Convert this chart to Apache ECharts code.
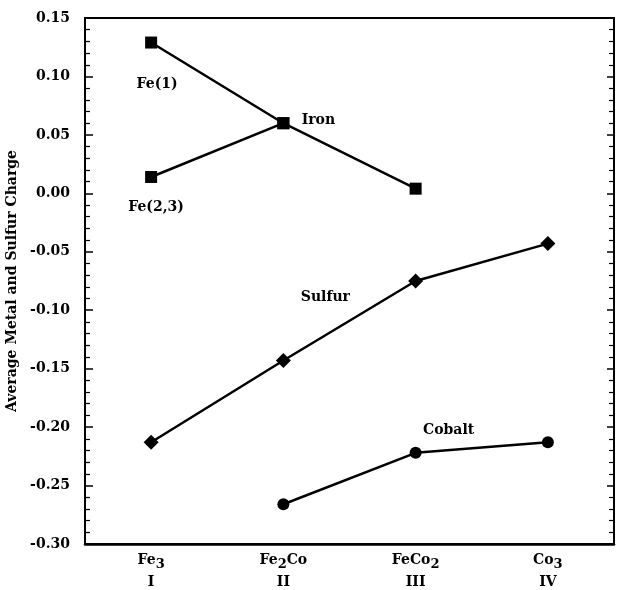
<!DOCTYPE html>
<html>
<head>
<meta charset="utf-8">
<script src="https://cdn.jsdelivr.net/npm/echarts@6/dist/echarts.min.js"></script>
<style>
  html, body { margin: 0; padding: 0; background: #fff; }
  #chart { width: 617px; height: 590px; }
</style>
</head>
<body>
<div id="chart"></div>
<script>
// ---- data ----
const categories = ['Fe3', 'Fe2Co', 'FeCo2', 'Co3'];
const romanLabels = ['I', 'II', 'III', 'IV'];
const fe1 = [0.129, 0.060, 0.004, null];
const fe23 = [0.014, 0.060, null, null];
const sulfur = [-0.213, -0.143, -0.075, -0.043];
const cobalt = [null, -0.266, -0.222, -0.213];
const yMin = -0.30, yMax = 0.15, yStep = 0.05;
const yAxisTitle = 'Average Metal and Sulfur Charge';

// ---- annotation texts (attached to data points) ----
const annotations = [
  { series: 'Fe(1)', index: 0, text: 'Fe(1)', offset: [6, 42] },
  { series: 'Fe(1)', index: 1, text: 'Iron', offset: [35, -3] },
  { series: 'Fe(2,3)', index: 0, text: 'Fe(2,3)', offset: [5, 30] },
  { series: 'Sulfur', index: 1, text: 'Sulfur', offset: [42, -63] },
  { series: 'Cobalt', index: 2, text: 'Cobalt', offset: [33, -22] }
];

const FONT = 'DejaVu Serif';

function buildData(name, values) {
  return values.map((v, i) => {
    const a = annotations.find(an => an.series === name && an.index === i);
    if (!a || v === null) return v;
    return {
      value: v,
      label: {
        show: true,
        position: 'inside',
        formatter: a.text,
        offset: a.offset,
        color: '#000',
        fontFamily: FONT,
        fontWeight: 'bold',
        fontSize: 14
      }
    };
  });
}

function catFormatter(value, idx) {
  const parts = value.match(/[A-Za-z]+|\d+/g);
  let s = '';
  parts.forEach(p => {
    if (/^\d+$/.test(p)) s += '{s|' + p + '}';
    else s += '{a|' + p + '}';
  });
  return s + '\n{b|' + romanLabels[idx] + '}';
}

const lineCommon = {
  type: 'line',
  connectNulls: false,
  lineStyle: { color: '#000', width: 2.5 },
  itemStyle: { color: '#000' },
  symbolSize: 12,
  label: { show: false },
  emphasis: { disabled: true },
  z: 3
};

const chart = echarts.init(document.getElementById('chart'), null, { renderer: 'canvas' });
chart.setOption({
  backgroundColor: '#fff',
  animation: false,
  grid: {
    left: 85, right: 3, top: 18, bottom: 46,
    outerBoundsMode: 'none',
    containLabel: false,
    show: true, borderColor: '#000', borderWidth: 2, backgroundColor: 'transparent'
  },
  xAxis: {
    type: 'category',
    data: categories,
    boundaryGap: true,
    axisLine: { show: true, onZero: false, lineStyle: { color: '#000', width: 2.5 } },
    axisTick: { show: false },
    splitLine: { show: false },
    axisLabel: {
      margin: 7,
      formatter: catFormatter,
      color: '#000',
      rich: {
        a: { fontFamily: FONT, fontWeight: 'bold', fontSize: 14, color: '#000', lineHeight: 18 },
        s: { fontFamily: FONT, fontWeight: 'bold', fontSize: 13, color: '#000', padding: [10, 0, 0, 0], lineHeight: 18 },
        b: { fontFamily: FONT, fontWeight: 'bold', fontSize: 14, color: '#000', lineHeight: 18, padding: [9, 0, 0, 0] }
      }
    }
  },
  yAxis: [
    {
      type: 'value',
      min: yMin, max: yMax, interval: yStep,
      name: yAxisTitle,
      nameLocation: 'middle',
      nameGap: 54,
      nameRotate: 90,
      nameTextStyle: { fontFamily: FONT, fontSize: 14, fontWeight: 'bold', color: '#000' },
      axisLine: { show: true, onZero: false, lineStyle: { color: '#000', width: 2 } },
      axisTick: { show: true, inside: true, length: 8, lineStyle: { color: '#000', width: 1.5 } },
      minorTick: { show: true, splitNumber: 5, length: 5, lineStyle: { color: '#000', width: 1.2 } },
      splitLine: { show: false },
      axisLabel: {
        margin: 15,
        color: '#000',
        fontFamily: FONT,
        fontWeight: 'bold',
        fontSize: 14,
        formatter: v => v.toFixed(2)
      }
    },
    {
      type: 'value',
      position: 'right',
      min: yMin, max: yMax, interval: yStep,
      axisLine: { show: true, onZero: false, lineStyle: { color: '#000', width: 2 } },
      axisTick: { show: true, inside: true, length: 7, lineStyle: { color: '#000', width: 1.5 } },
      minorTick: { show: true, splitNumber: 5, length: 5, lineStyle: { color: '#000', width: 1.2 } },
      splitLine: { show: false },
      axisLabel: { show: false }
    }
  ],
  series: [
    Object.assign({}, lineCommon, { name: 'Fe(1)', symbol: 'rect', data: buildData('Fe(1)', fe1) }),
    Object.assign({}, lineCommon, { name: 'Fe(2,3)', symbol: 'rect', data: buildData('Fe(2,3)', fe23) }),
    Object.assign({}, lineCommon, { name: 'Sulfur', symbol: 'diamond', symbolSize: 15, data: buildData('Sulfur', sulfur) }),
    Object.assign({}, lineCommon, { name: 'Cobalt', symbol: 'circle', symbolSize: 12, data: buildData('Cobalt', cobalt) })
  ]
});
</script>
</body>
</html>
